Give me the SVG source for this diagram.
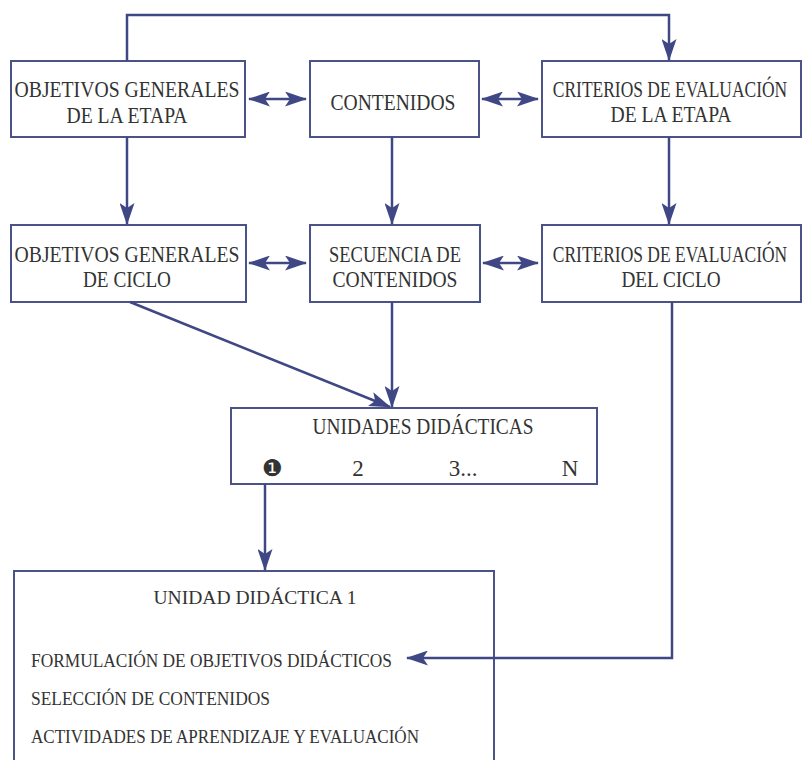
<svg xmlns="http://www.w3.org/2000/svg" width="803" height="760" viewBox="0 0 803 760">
<style>
.box{fill:#fff;stroke:#4a5288;stroke-width:2}
.t{font-family:"Liberation Serif","DejaVu Serif",serif;fill:#333;font-size:23px}
.s{font-family:"Liberation Serif","DejaVu Serif",serif;fill:#333;font-size:18px}
.c{stroke:#3f4885;stroke-width:2.5;fill:none}
</style>
<defs>
<marker id="ah" markerUnits="userSpaceOnUse" markerWidth="22" markerHeight="15" refX="21" refY="7.5" orient="auto-start-reverse" viewBox="0 0 22 15">
<path d="M0,0 L22,7.5 L0,15 L5,7.5 Z" fill="#3f4885"/>
</marker>
</defs>
<rect width="803" height="760" fill="#fff"/>
<g id="n1"><rect class="box" x="11" y="61" width="234" height="76"/>
<text class="t" x="127" y="97" text-anchor="middle" textLength="225" lengthAdjust="spacingAndGlyphs">OBJETIVOS GENERALES</text>
<text class="t" x="127" y="123" text-anchor="middle" textLength="121" lengthAdjust="spacingAndGlyphs">DE LA ETAPA</text></g>
<g id="n2"><rect class="box" x="310" y="61" width="169" height="76"/>
<text class="t" x="393" y="110" text-anchor="middle" textLength="125" lengthAdjust="spacingAndGlyphs">CONTENIDOS</text></g>
<g id="n3"><rect class="box" x="542" y="61" width="259" height="76"/>
<text class="t" transform="translate(670,97) scale(0.76,1)" x="0" y="0" text-anchor="middle">CRITERIOS DE EVALUACIÓN</text>
<text class="t" x="671" y="122" text-anchor="middle" textLength="121" lengthAdjust="spacingAndGlyphs">DE LA ETAPA</text></g>
<g id="n4"><rect class="box" x="11" y="225" width="235" height="77"/>
<text class="t" x="127" y="262" text-anchor="middle" textLength="225" lengthAdjust="spacingAndGlyphs">OBJETIVOS GENERALES</text>
<text class="t" x="127" y="287" text-anchor="middle" textLength="88" lengthAdjust="spacingAndGlyphs">DE CICLO</text></g>
<g id="n5"><rect class="box" x="310" y="225" width="170" height="77"/>
<text class="t" x="395" y="262" text-anchor="middle" textLength="132" lengthAdjust="spacingAndGlyphs">SECUENCIA DE</text>
<text class="t" x="395" y="287" text-anchor="middle" textLength="125" lengthAdjust="spacingAndGlyphs">CONTENIDOS</text></g>
<g id="n6"><rect class="box" x="542" y="225" width="259" height="77"/>
<text class="t" transform="translate(670,262) scale(0.76,1)" x="0" y="0" text-anchor="middle">CRITERIOS DE EVALUACIÓN</text>
<text class="t" x="671" y="287" text-anchor="middle" textLength="99" lengthAdjust="spacingAndGlyphs">DEL CICLO</text></g>
<g id="n7"><rect class="box" x="231" y="408" width="366" height="76"/>
<text class="t" x="423" y="434" text-anchor="middle" font-size="20" textLength="221" lengthAdjust="spacingAndGlyphs">UNIDADES DIDÁCTICAS</text>
<text class="t" x="272" y="476" text-anchor="middle" font-size="19" font-family="DejaVu Sans,sans-serif">❶</text>
<text class="t" x="358" y="476" text-anchor="middle" font-size="20">2</text>
<text class="t" x="463" y="476" text-anchor="middle" font-size="20">3...</text>
<text class="t" x="570" y="476" text-anchor="middle" font-size="20">N</text></g>
<g id="n8"><rect class="box" x="14" y="571" width="480" height="200"/>
<text class="s" x="255" y="604" text-anchor="middle" font-size="20" textLength="203" lengthAdjust="spacingAndGlyphs">UNIDAD DIDÁCTICA 1</text>
<text class="s" x="31" y="667" textLength="361" lengthAdjust="spacingAndGlyphs">FORMULACIÓN DE OBJETIVOS DIDÁCTICOS</text>
<text class="s" x="31" y="705" textLength="239" lengthAdjust="spacingAndGlyphs">SELECCIÓN DE CONTENIDOS</text>
<text class="s" x="31" y="743" textLength="388" lengthAdjust="spacingAndGlyphs">ACTIVIDADES DE APRENDIZAJE Y EVALUACIÓN</text></g>
<g id="connectors">
<path class="c" d="M127,61 V15 H669 V60" marker-end="url(#ah)"/>
<line class="c" x1="249" y1="99" x2="306" y2="99" marker-start="url(#ah)" marker-end="url(#ah)"/>
<line class="c" x1="482" y1="99" x2="538" y2="99" marker-start="url(#ah)" marker-end="url(#ah)"/>
<line class="c" x1="249" y1="263" x2="306" y2="263" marker-start="url(#ah)" marker-end="url(#ah)"/>
<line class="c" x1="483" y1="263" x2="538" y2="263" marker-start="url(#ah)" marker-end="url(#ah)"/>
<line class="c" x1="127" y1="137" x2="127" y2="224" marker-end="url(#ah)"/>
<line class="c" x1="392" y1="137" x2="392" y2="224" marker-end="url(#ah)"/>
<line class="c" x1="669" y1="137" x2="669" y2="224" marker-end="url(#ah)"/>
<line class="c" x1="130" y1="302" x2="390" y2="407" marker-end="url(#ah)"/>
<line class="c" x1="392" y1="302" x2="392" y2="407" marker-end="url(#ah)"/>
<line class="c" x1="265" y1="484" x2="265" y2="570" marker-end="url(#ah)"/>
<path class="c" d="M672,302 V658 H407" marker-end="url(#ah)"/>
</g>
</svg>
